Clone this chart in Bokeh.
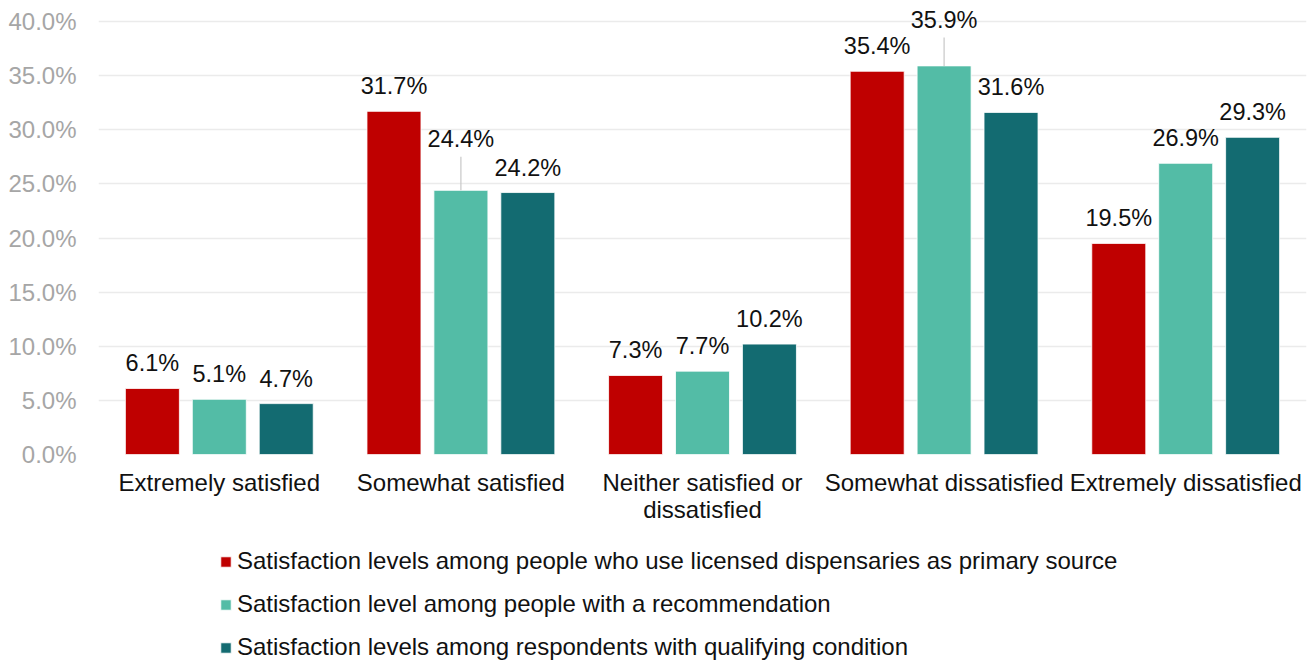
from bokeh.plotting import figure
from bokeh.layouts import column
from bokeh.models import (ColumnDataSource, FactorRange, Range1d, FixedTicker,
                          PrintfTickFormatter, Legend, LegendItem)
from bokeh.transform import dodge
from bokeh.core.properties import value
from bokeh.embed import file_html
from bokeh.resources import INLINE

# --- data -------------------------------------------------------------
categories = [
    "Extremely satisfied",
    "Somewhat satisfied",
    "Neither satisfied or\ndissatisfied",
    "Somewhat dissatisfied",
    "Extremely dissatisfied",
]
licensed = [6.1, 31.7, 7.3, 35.4, 19.5]
recommendation = [5.1, 24.4, 7.7, 35.9, 26.9]
qualifying = [4.7, 24.2, 10.2, 31.6, 29.3]

series_names = [
    "Satisfaction levels among people who use licensed dispensaries as primary source",
    "Satisfaction level among people with a recommendation",
    "Satisfaction levels among respondents with qualifying condition",
]
y_ticks = [0, 5, 10, 15, 20, 25, 30, 35, 40]

# --- styling ----------------------------------------------------------
colors = ["#BF0000", "#53BCA6", "#136B71"]
offsets = [-0.277, 0.0, 0.277]
bar_width = 0.2235
FONT = "Liberation Sans"
FS = "24px"

W = 1309
CHART_H, LEGEND_H = 535, 126
LEFT, RIGHT = 98, 3
Y_TOP_PX = 21                       # pixel row of the 40 % gridline
Y_ZERO_PX = 454                     # pixel row of the baseline
HEADROOM_PX = 16                    # room above 40 % for the tallest labels
Y_MAX = 40
PX = (Y_ZERO_PX - Y_TOP_PX) / Y_MAX      # pixels per percentage point

label_gap = 25                            # label centre above bar top (px)
extra_lift = [                            # labels nudged up with leader lines (px)
    [0, 0, 0, 0, 0],
    [0, 26, 0, 21, 0],
    [0, 0, 0, 0, 0],
]

p = figure(
    x_range=FactorRange(*categories),
    y_range=Range1d(0, Y_MAX + HEADROOM_PX / PX),
    width=W, height=CHART_H,
    output_backend="svg", toolbar_location=None,
    min_border_left=LEFT, min_border_right=RIGHT,
    min_border_top=Y_TOP_PX - HEADROOM_PX, min_border_bottom=CHART_H - Y_ZERO_PX,
)
p.outline_line_color = None
p.background_fill_color = "white"
p.border_fill_color = "white"

for i, vals in enumerate([licensed, recommendation, qualifying]):
    lifts = extra_lift[i]
    src = ColumnDataSource(dict(
        cat=categories,
        val=vals,
        label=[f"{v:.1f}%" for v in vals],
        label_y=[v + (label_gap + l) / PX for v, l in zip(vals, lifts)],
    ))
    xpos = dodge("cat", offsets[i], range=p.x_range)
    p.vbar(x=xpos, top="val", width=bar_width, source=src,
           fill_color=colors[i], line_color="white", line_width=0.8)

    # leader lines for raised labels
    lead = [(c, v, v + (label_gap + l - 17.5) / PX)
            for c, v, l in zip(categories, vals, lifts) if l > 0]
    if lead:
        lsrc = ColumnDataSource(dict(
            cat=[a for a, _, _ in lead],
            y0=[b for _, b, _ in lead],
            y1=[c for _, _, c in lead],
        ))
        p.segment(x0=xpos, y0="y0", x1=xpos, y1="y1", source=lsrc,
                  line_color="#c8c8c8", line_width=1.2)

    p.text(x=xpos, y="label_y", text="label", source=src,
           text_align="center", text_baseline="middle",
           text_font=value(FONT), text_font_size=value("23.5px"),
           text_color="#111111")

# --- axes & grid ------------------------------------------------------
p.xgrid.grid_line_color = None
p.ygrid.grid_line_color = "#ebebeb"
p.ygrid.grid_line_width = 1.6
p.yaxis.ticker = FixedTicker(ticks=y_ticks)
p.yaxis.formatter = PrintfTickFormatter(format="%.1f%%")

for ax in (p.xaxis[0], p.yaxis[0]):
    ax.axis_line_color = None
    ax.major_tick_line_color = None
    ax.minor_tick_line_color = None
    ax.major_tick_out = 0
    ax.major_tick_in = 0
    ax.major_label_text_font = FONT
    ax.major_label_text_font_size = FS

p.yaxis.major_label_text_color = "#a6a6a6"
p.yaxis.major_label_standoff = 22
p.xaxis.major_label_text_color = "#111111"
p.xaxis.major_label_standoff = 14
p.xaxis.major_label_text_line_height = 1.02

# --- legend strip -----------------------------------------------------
leg = figure(
    width=W, height=LEGEND_H,
    x_range=Range1d(0, 1), y_range=Range1d(0, 1),
    output_backend="svg", toolbar_location=None,
    min_border_left=LEFT, min_border_right=RIGHT,
    min_border_top=0, min_border_bottom=0,
)
leg.axis.visible = False
leg.grid.visible = False
leg.outline_line_color = None
leg.background_fill_color = "white"
leg.border_fill_color = "white"

# flat (zero-height) bars that only carry the swatch styles for the legend
swatches = [
    leg.vbar(x=[0.5], bottom=[0], top=[0], width=0.0,
             fill_color=c, line_color="white", line_width=0.8)
    for c in colors
]
legend = Legend(
    items=[LegendItem(label=n, renderers=[r]) for n, r in zip(series_names, swatches)],
    location=(121, 0),
    orientation="vertical",
    glyph_width=13, glyph_height=13,
    label_standoff=5, spacing=15, padding=0, margin=0,
    label_height=20,
    border_line_color=None, background_fill_alpha=0,
    label_text_font=FONT, label_text_font_size=FS, label_text_color="#111111",
)
leg.add_layout(legend)

layout = column(p, leg, spacing=0)
open("out.html", "w").write(file_html(layout, INLINE))
